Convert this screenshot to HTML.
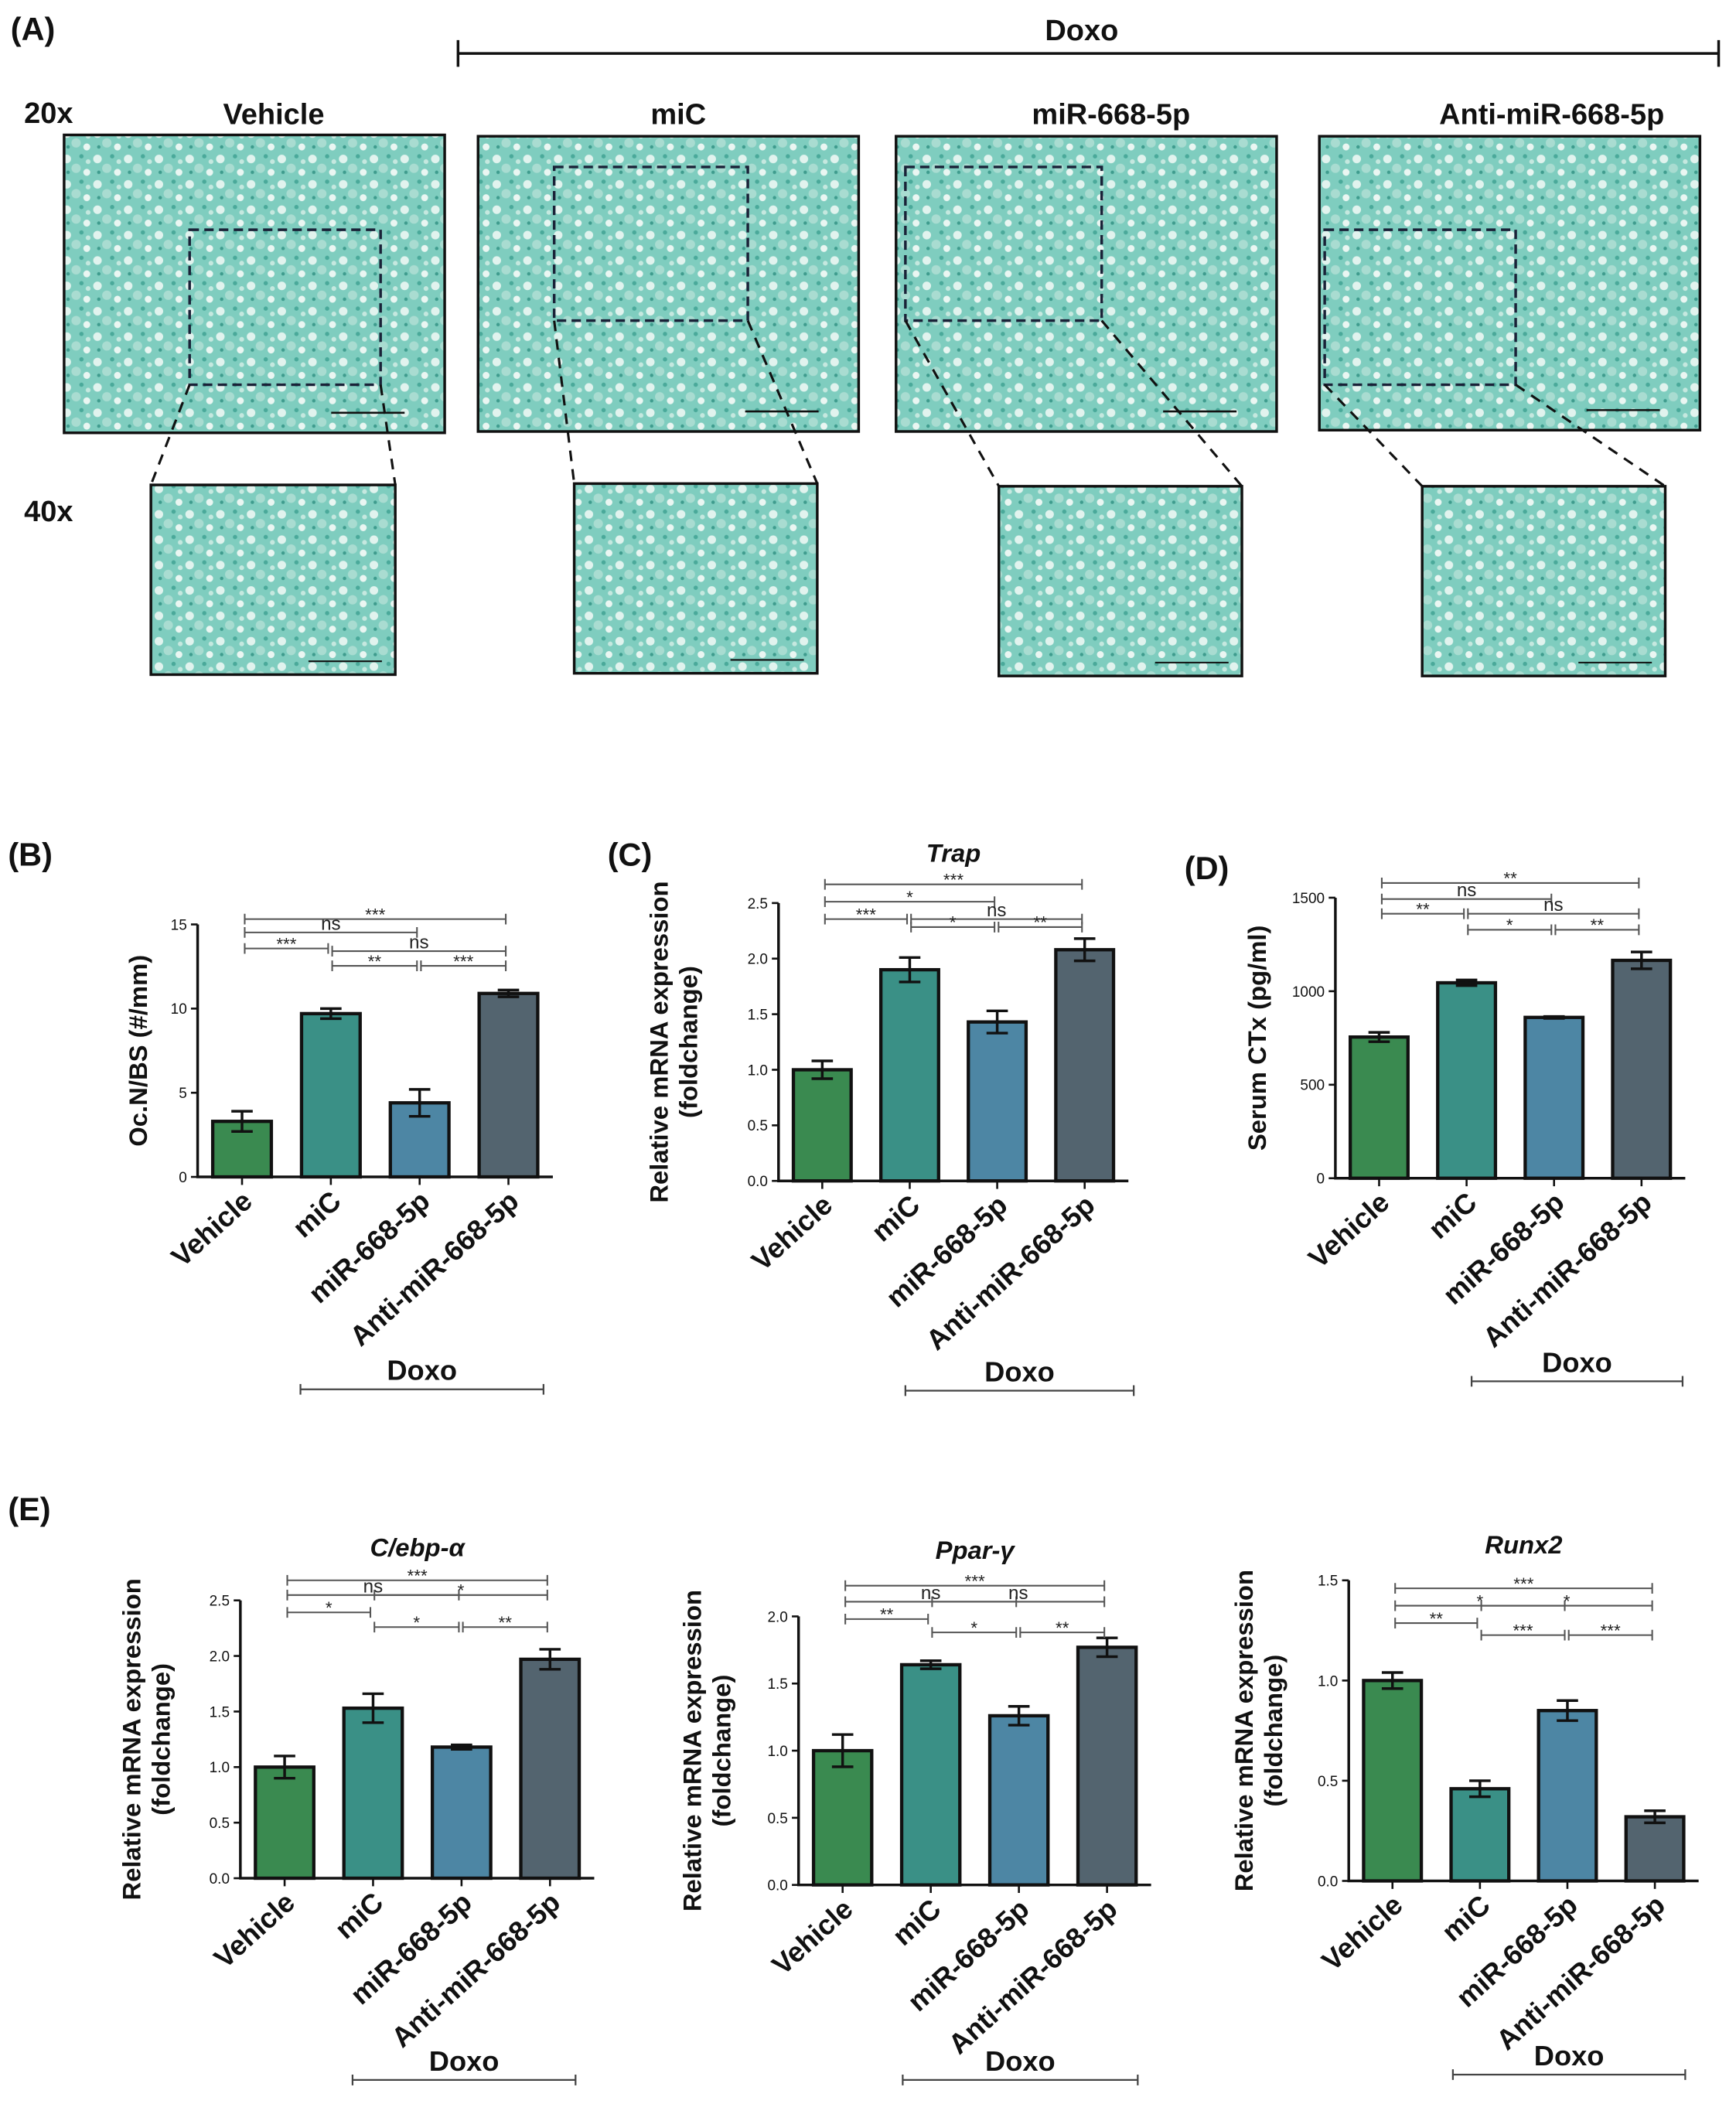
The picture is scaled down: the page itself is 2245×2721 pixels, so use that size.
<!DOCTYPE html>
<html><head><meta charset="utf-8">
<style>
html,body{margin:0;padding:0;background:#fff;}
svg{display:block;}
text{font-family:"Liberation Sans Narrow","Liberation Sans",sans-serif;}
.lbl{font-weight:bold;fill:#111;}
.tick{font-family:"Liberation Sans",sans-serif;font-size:11px;fill:#111;}
</style></head>
<body>
<svg id="fig" width="2245" height="2721" viewBox="0 0 1300 1575" preserveAspectRatio="none" xmlns="http://www.w3.org/2000/svg">
<defs>
<pattern id="tissue" width="23" height="19" patternUnits="userSpaceOnUse">
<rect width="23" height="19" fill="#7fcdbf"/>
<circle cx="4" cy="5" r="3.2" fill="#e1f3ee"/>
<circle cx="15" cy="3" r="1.6" fill="#4aa99a"/>
<circle cx="11" cy="12" r="3.5" fill="#a9dcd1"/>
<circle cx="19" cy="15" r="2.6" fill="#eaf6f2"/>
<circle cx="5" cy="15" r="1.3" fill="#3f9c8e"/>
<circle cx="20" cy="7" r="1.8" fill="#c5e8df"/>
</pattern>
</defs>
<g id="panelA"></g>
<g id="charts"></g>
</svg>
<script>
// ---------- chart data ----------
const categories = ["Vehicle","miC","miR-668-5p","Anti-miR-668-5p"];
const barColors = ["#3a8a50","#3a9086","#4d86a4","#53646f"];
const ocnValues = [3.3, 9.7, 4.4, 10.9];
const ocnErrors = [0.6, 0.3, 0.8, 0.2];
const ocnTicks = [0, 5, 10, 15];
const trapValues = [1.0, 1.9, 1.43, 2.08];
const trapErrors = [0.08, 0.11, 0.1, 0.1];
const trapTicks = [0, 0.5, 1.0, 1.5, 2.0, 2.5];
const ctxValues = [755, 1045, 860, 1165];
const ctxErrors = [25, 15, 5, 45];
const ctxTicks = [0, 500, 1000, 1500];
const cebpValues = [1.0, 1.53, 1.18, 1.97];
const cebpErrors = [0.1, 0.13, 0.02, 0.09];
const cebpTicks = [0, 0.5, 1.0, 1.5, 2.0, 2.5];
const pparValues = [1.0, 1.64, 1.26, 1.77];
const pparErrors = [0.12, 0.03, 0.07, 0.07];
const pparTicks = [0, 0.5, 1.0, 1.5, 2.0];
const runxValues = [1.0, 0.46, 0.85, 0.32];
const runxErrors = [0.04, 0.04, 0.05, 0.03];
const runxTicks = [0, 0.5, 1.0, 1.5];
// significance comparisons: [from, to, label]
const ocnSig = [[0,3,"***"],[0,2,"ns"],[0,1,"***"],[1,3,"ns"],[1,2,"**"],[2,3,"***"]];
const trapSig = [[0,3,"***"],[0,2,"*"],[0,1,"***"],[1,3,"ns"],[1,2,"*"],[2,3,"**"]];
const ctxSig = [[0,3,"**"],[0,2,"ns"],[0,1,"**"],[1,3,"ns"],[1,2,"*"],[2,3,"**"]];
const cebpSig = [[0,3,"***"],[0,2,"ns"],[0,1,"*"],[1,3,"*"],[1,2,"*"],[2,3,"**"]];
const pparSig = [[0,3,"***"],[0,2,"ns"],[0,1,"**"],[1,3,"ns"],[1,2,"*"],[2,3,"**"]];
const runxSig = [[0,3,"***"],[0,2,"*"],[0,1,"**"],[1,3,"*"],[1,2,"***"],[2,3,"***"]];

const NS="http://www.w3.org/2000/svg";
function mk(parent, tag, attrs, txt){
  const e=document.createElementNS(NS,tag);
  for(const k in attrs) e.setAttribute(k,attrs[k]);
  if(txt!==undefined) e.textContent=txt;
  parent.appendChild(e); return e;
}

// ---------- panel A ----------
const A=document.getElementById('panelA');
function label(parent,x,y,s,size,anchor,name){
  const t=mk(parent,'text',{x:x,y:y,'font-size':size,'text-anchor':anchor||'start',class:'lbl'},s);
  
  
  return t;
}
label(A,8,30,"(A)",24,'start','panel-a-label');
label(A,810,30,"Doxo",22,'middle','doxo-header');
const dl=mk(A,'path',{d:"M343,40H1287M343,30V50M1287,30V50",stroke:"#111","stroke-width":2,fill:"none"});


label(A,18,92,"20x",22,'start','20x-label');
label(A,18,390,"40x",22,'start','40x-label');
const groupNames=["Vehicle","miC","miR-668-5p","Anti-miR-668-5p"];
const titleX=[205,508,832,1162];
const big=[[48,101,285,223],[358,102,285,221],[671,102,285,221],[988,102,285,220]];
const box=[[142,172,143,116],[415,125,145,115],[678,125,147,115],[992,172,143,116]];
const small=[[113,363,183,142],[430,362,182,142],[748,364,182,142],[1065,364,182,142]];
for(let i=0;i<4;i++){
  label(A,titleX[i],93,groupNames[i],22,'middle','group-title-'+i);
  const b=big[i];
  const r=mk(A,'rect',{x:b[0],y:b[1],width:b[2],height:b[3],fill:"url(#tissue)",stroke:"#111","stroke-width":2});
  
  
  mk(A,'path',{d:`M${b[0]+b[2]-85},${b[1]+b[3]-15}h55`,stroke:"#111","stroke-width":1.5});
  const bx=box[i];
  const d=mk(A,'rect',{x:bx[0],y:bx[1],width:bx[2],height:bx[3],fill:"none",stroke:"#1a2238","stroke-width":2,"stroke-dasharray":"7,4"});
  
  
  const s=small[i];
  const sr=mk(A,'rect',{x:s[0],y:s[1],width:s[2],height:s[3],fill:"url(#tissue)",stroke:"#111","stroke-width":2});
  
  
  mk(A,'path',{d:`M${s[0]+s[2]-65},${s[1]+s[3]-10}h55`,stroke:"#111","stroke-width":1.2});
  mk(A,'path',{d:`M${bx[0]},${bx[1]+bx[3]}L${s[0]},${s[1]}M${bx[0]+bx[2]},${bx[1]+bx[3]}L${s[0]+s[2]},${s[1]}`,stroke:"#111","stroke-width":1.8,"stroke-dasharray":"8,6",fill:"none"});
}

// ---------- bar charts ----------
const C=document.getElementById('charts');
function barChart(cfg){
  const g=mk(C,'g',{});
  
  
  const ymax=cfg.ticks[cfg.ticks.length-1];
  const ys=v=>cfg.y0-(v/ymax)*(cfg.y0-cfg.yTop);
  const band=(cfg.xR-cfg.xL)/categories.length;
  const xc=i=>cfg.xL+band*(i+0.5);
  const bw=band*0.66;
  const ax=mk(g,'path',{d:`M${cfg.xL},${cfg.yTop}V${cfg.y0}H${cfg.xR}`,stroke:"#111","stroke-width":2,fill:"none"});
  
  
  cfg.ticks.forEach(t=>{
    mk(g,'path',{d:`M${cfg.xL-5},${ys(t)}H${cfg.xL}`,stroke:"#111","stroke-width":1.5});
    const tl=mk(g,'text',{x:cfg.xL-8,y:ys(t)+4,class:'tick','text-anchor':'end'},cfg.fmt(t));
    
    
  });
  cfg.values.forEach((v,i)=>{
    const r=mk(g,'rect',{x:xc(i)-bw/2,y:ys(v),width:bw,height:cfg.y0-ys(v),fill:barColors[i],stroke:"#111","stroke-width":2.5});
    
    
    const e=cfg.errors[i];
    const eb=mk(g,'path',{d:`M${xc(i)},${ys(v+e)}V${ys(v-e)}M${xc(i)-8},${ys(v+e)}h16M${xc(i)-8},${ys(v-e)}h16`,stroke:"#111","stroke-width":2,fill:"none"});
    
    
    mk(g,'path',{d:`M${xc(i)},${cfg.y0}v6`,stroke:"#111","stroke-width":1.5});
    const xl=mk(g,'text',{x:0,y:0,class:'lbl','font-size':21,'text-anchor':'end',transform:`translate(${xc(i)+9},${cfg.y0+20}) rotate(-42)`},categories[i]);
    
    
  });
  cfg.sig.forEach((s,k)=>{
    const yy=cfg.sigY[k];
    const x1=xc(s[0])-(s[0]>0?1:0)+2, x2=xc(s[1])-2;
    const bp=mk(g,'path',{d:`M${x1},${yy}H${x2}M${x1},${yy-4}v8M${x2},${yy-4}v8`,stroke:"#555","stroke-width":1.2,fill:"none"});
    
    
    const st=mk(g,'text',{x:(x1+x2)/2,y:yy-(s[2]==="ns"?2:-1),'text-anchor':'middle','font-family':'Liberation Sans, sans-serif','font-size':s[2]==="ns"?14:13,fill:"#222"},s[2]);
    
    
  });
  const ty=(cfg.y0+cfg.yTop)/2;
  cfg.ytitle.forEach((line,k)=>{
    const t=mk(g,'text',{x:0,y:0,class:'lbl','font-size':19,'text-anchor':'middle',transform:`translate(${cfg.ytx+k*22},${ty}) rotate(-90)`},line);
    
    
  });
  if(cfg.title){
    const t=mk(g,'text',{x:(cfg.xL+cfg.xR)/2,y:cfg.titleY,class:'lbl','font-size':19,'font-style':'italic','text-anchor':'middle'},cfg.title);
    
    
  }
  const dx=cfg.doxo;
  const dt=mk(g,'text',{x:(dx[0]+dx[1])/2,y:dx[2]-7,class:'lbl','font-size':21,'text-anchor':'middle'},"Doxo");
  
  
  const dln=mk(g,'path',{d:`M${dx[0]},${dx[2]}H${dx[1]}M${dx[0]},${dx[2]-4}v8M${dx[1]},${dx[2]-4}v8`,stroke:"#444","stroke-width":1.3,fill:"none"});
  
  
  const pl=mk(g,'text',{x:cfg.pl[0],y:cfg.pl[1],class:'lbl','font-size':24},cfg.plabel);
  
  
}
const f1=t=>t.toFixed(1), f0=t=>String(t);
barChart({name:'chart-b-ocn',values:ocnValues,errors:ocnErrors,ticks:ocnTicks,fmt:f0,xL:148,xR:414,y0:881,yTop:692,
  sig:ocnSig,sigY:[688,698,710,712,723,723],ytitle:["Oc.N/BS (#/mm)"],ytx:110,doxo:[225,407,1040],plabel:"(B)",pl:[6,648]});
barChart({name:'chart-c-trap',values:trapValues,errors:trapErrors,ticks:trapTicks,fmt:f1,xL:583,xR:845,y0:884,yTop:676,
  sig:trapSig,sigY:[662,675,688,688,694,694],ytitle:["Relative mRNA expression","(foldchange)"],ytx:500,title:"Trap",titleY:645,doxo:[678,849,1041],plabel:"(C)",pl:[455,648]});
barChart({name:'chart-d-ctx',values:ctxValues,errors:ctxErrors,ticks:ctxTicks,fmt:f0,xL:1000,xR:1262,y0:882,yTop:672,
  sig:ctxSig,sigY:[661,673,684,684,696,696],ytitle:["Serum CTx (pg/ml)"],ytx:948,doxo:[1102,1260,1034],plabel:"(D)",pl:[887,658]});
barChart({name:'chart-e-cebp',values:cebpValues,errors:cebpErrors,ticks:cebpTicks,fmt:f1,xL:180,xR:445,y0:1406,yTop:1198,
  sig:cebpSig,sigY:[1183,1194,1207,1194,1218,1218],ytitle:["Relative mRNA expression","(foldchange)"],ytx:105,title:"C/ebp-α",titleY:1165,doxo:[264,431,1557],plabel:"(E)",pl:[6,1138]});
barChart({name:'chart-e-ppar',values:pparValues,errors:pparErrors,ticks:pparTicks,fmt:f1,xL:598,xR:862,y0:1411,yTop:1210,
  sig:pparSig,sigY:[1187,1199,1212,1199,1222,1222],ytitle:["Relative mRNA expression","(foldchange)"],ytx:525,title:"Ppar-γ",titleY:1167,doxo:[676,852,1557],plabel:"",pl:[0,0]});
barChart({name:'chart-e-runx2',values:runxValues,errors:runxErrors,ticks:runxTicks,fmt:f1,xL:1010,xR:1272,y0:1408,yTop:1183,
  sig:runxSig,sigY:[1189,1202,1215,1202,1224,1224],ytitle:["Relative mRNA expression","(foldchange)"],ytx:938,title:"Runx2",titleY:1163,doxo:[1088,1262,1553],plabel:"",pl:[0,0]});
</script>
</body></html>
